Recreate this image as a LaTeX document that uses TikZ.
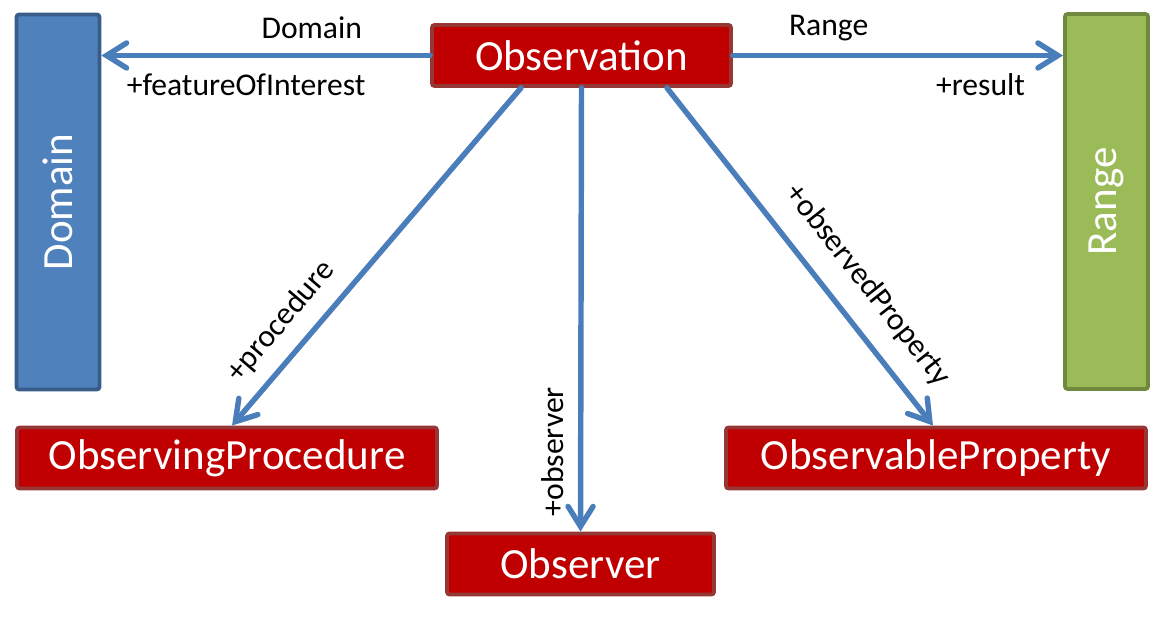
\documentclass[tikz,border=0pt]{standalone}
\usepackage{fontspec}
\setmainfont{Carlito}
\usetikzlibrary{arrows.meta}
\definecolor{obsred}{HTML}{C00000}
\definecolor{obsedge}{HTML}{953735}
\definecolor{domblue}{HTML}{4F81BD}
\definecolor{domedge}{HTML}{385D8A}
\definecolor{rangegreen}{HTML}{9BBB59}
\definecolor{rangeedge}{HTML}{71893F}
\definecolor{linkblue}{HTML}{4A7EBB}
\newcommand{\boxfont}{\fontsize{24.5}{29}\selectfont}
\newcommand{\rolefont}{\fontsize{18}{22}\selectfont}

\begin{document}
\begin{tikzpicture}[x=0.02cm,y=-0.02cm]
\tikzset{
  classbox/.style={draw=obsedge, fill=obsred, line width=2.2pt, rounded corners=1.5pt,
    text=white, font=\boxfont, inner sep=0pt, minimum height=1.22cm},
  sidebox/.style={line width=2.2pt, rounded corners=1.5pt, text=white, font=\boxfont,
    inner sep=0pt, rotate=90, minimum width=7.5cm, minimum height=1.66cm},
  assoc/.style={draw=linkblue, line width=3.1pt, line cap=round,
    -{Straight Barb[length=0.4cm, width=0.5cm, line cap=round]}},
  role/.style={font=\rolefont, text=black, inner sep=2pt}
}
\useasboundingbox (0,0) rectangle (1166,631);
% classes
\node[classbox, minimum width=5.98cm] (obs) at (581.5,55.5) {Observation};
\node[classbox, minimum width=8.4cm] (proc) at (227,458) {ObservingProcedure};
\node[classbox, minimum width=5.34cm] (obsr) at (580.5,564) {Observer};
\node[classbox, minimum width=8.4cm] (prop) at (936,458) {ObservableProperty};
\node[sidebox, draw=domedge, fill=domblue] (dom) at (58,202) {Domain};
\node[sidebox, draw=rangeedge, fill=rangegreen] (rng) at (1106.5,201.5) {Range};
% associations
\draw[assoc] (obs.west) -- (obs.west -| dom.south)
  node[role, above=6pt, pos=0.36] {Domain}
  node[role, below=7pt, pos=0.56] {+featureOfInterest};
\draw[assoc] (obs.east) -- (obs.east -| rng.north)
  node[role, above=5pt, pos=0.29] {Range}
  node[role, below=7pt, pos=0.75] {+result};
\draw[assoc] ([xshift=-1.21cm]obs.south) -- ([xshift=0.1cm]proc.north)
  node[role, sloped, above=6pt, pos=0.75] {+procedure};
\draw[assoc] (obs.south) -- (obsr.north)
  node[role, sloped, above=6pt, pos=0.82] {+observer};
\draw[assoc] ([xshift=1.71cm]obs.south) -- ([xshift=-0.06cm]prop.north)
  node[role, sloped, above=9pt, pos=0.65] {+observedProperty};
\end{tikzpicture}
\end{document}
